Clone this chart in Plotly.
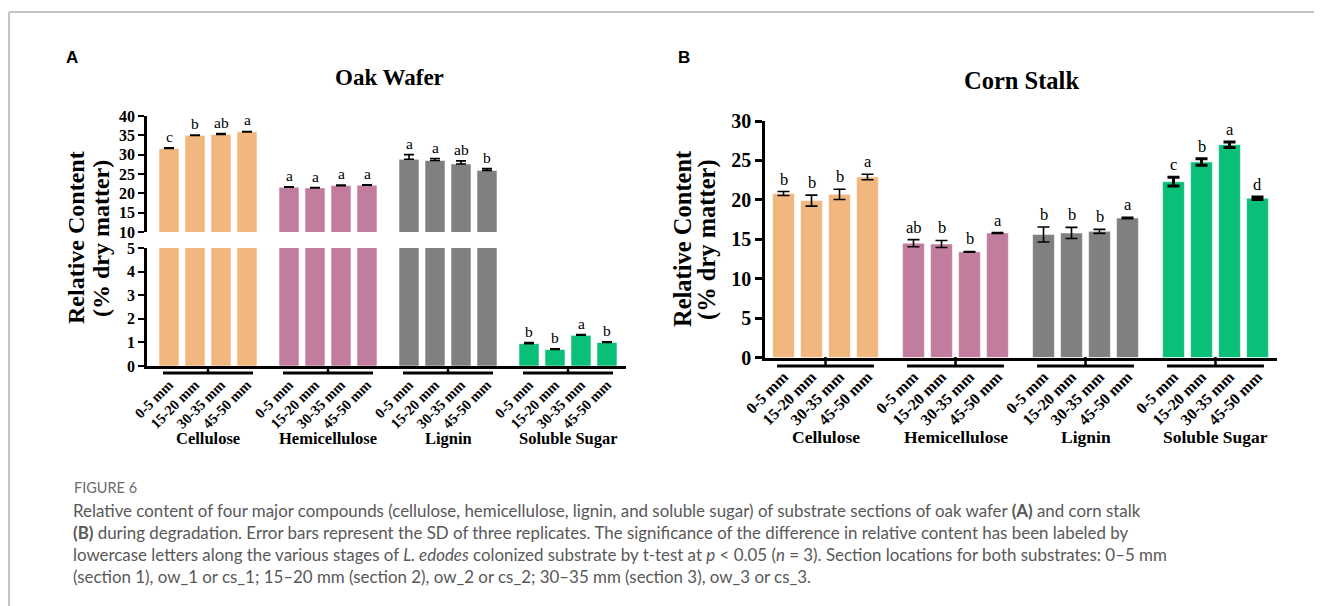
import plotly.graph_objects as go

# ---------------- data ----------------
compounds = ["Cellulose", "Hemicellulose", "Lignin", "Soluble Sugar"]
sections = ["0-5 mm", "15-20 mm", "30-35 mm", "45-50 mm"]
colors = ["#F2B77E", "#C27C9E", "#808080", "#0ABF78"]

# Panel A: oak wafer
ow_cellulose = [31.6, 35.0, 35.2, 35.9]
ow_hemicellulose = [21.6, 21.4, 22.0, 22.1]
ow_lignin = [28.8, 28.5, 27.6, 25.9]
ow_sugar = [0.95, 0.70, 1.30, 1.00]
ow_cellulose_sd = [0.15, 0.1, 0.25, 0.1]
ow_hemicellulose_sd = [0.1, 0.1, 0.15, 0.1]
ow_lignin_sd = [1.2, 0.5, 0.8, 0.5]
ow_sugar_sd = [0.04, 0.03, 0.03, 0.03]
ow_letters = [["c", "b", "ab", "a"], ["a", "a", "a", "a"],
              ["a", "a", "ab", "b"], ["b", "b", "a", "b"]]

# Panel B: corn stalk
cs_cellulose = [20.8, 19.9, 20.7, 22.9]
cs_hemicellulose = [14.5, 14.4, 13.4, 15.8]
cs_lignin = [15.6, 15.8, 16.0, 17.7]
cs_sugar = [22.3, 24.8, 27.0, 20.2]
cs_cellulose_sd = [0.25, 0.7, 0.65, 0.35]
cs_hemicellulose_sd = [0.45, 0.45, 0.05, 0.05]
cs_lignin_sd = [0.95, 0.7, 0.25, 0.1]
cs_sugar_sd = [0.55, 0.4, 0.35, 0.15]
cs_letters = [["b", "b", "b", "a"], ["ab", "b", "b", "a"],
              ["b", "b", "b", "a"], ["c", "b", "a", "d"]]

ow_vals = [ow_cellulose, ow_hemicellulose, ow_lignin, ow_sugar]
ow_sds = [ow_cellulose_sd, ow_hemicellulose_sd, ow_lignin_sd, ow_sugar_sd]
cs_vals = [cs_cellulose, cs_hemicellulose, cs_lignin, cs_sugar]
cs_sds = [cs_cellulose_sd, cs_hemicellulose_sd, cs_lignin_sd, cs_sugar_sd]

# ---------------- layout helpers ----------------
W, H = 1322, 606
OFF = 8  # page body margin offset
def px(x):
    return (x - OFF) / W
def py(y):
    return 1 - (y - OFF) / H

SERIF = "Liberation Serif, Times New Roman, serif"
SANS = "Liberation Sans, Arial, sans-serif"
CAP = "Lato, Open Sans, sans-serif"

GAP_A = 120 / 26
GAP_B = 130 / 28

def positions(gap):
    return [[g * gap + i for i in range(4)] for g in range(4)]

pos_a = positions(GAP_A)
pos_b = positions(GAP_B)

fig = go.Figure()

# ---- Panel A bars (upper and lower broken segments) ----
for g in range(4):
    for yax in ["y", "y2"]:
        fig.add_trace(go.Bar(
            x=pos_a[g], y=ow_vals[g], xaxis="x", yaxis=yax,
            width=0.77, marker=dict(color=colors[g],
                                    line=dict(color="rgba(255,255,255,0.55)", width=1)),
            error_y=dict(type="data", array=ow_sds[g], arrayminus=[0] * 4,
                         symmetric=False, color="black", thickness=1.6, width=5),
            showlegend=False, hoverinfo="skip"))

# ---- Panel B bars ----
for g in range(4):
    fig.add_trace(go.Bar(
        x=pos_b[g], y=cs_vals[g], xaxis="x2", yaxis="y3",
        width=0.78, marker=dict(color=colors[g],
                                line=dict(color="rgba(255,255,255,0.55)", width=1)),
        error_y=dict(type="data", array=cs_sds[g], color="black",
                     thickness=3 if g == 3 else 1.6, width=6),
        showlegend=False, hoverinfo="skip"))

annotations = []
shapes = []

def ann(x, y, text, font, xref="paper", yref="paper", xanchor="center",
        yanchor="middle", **kw):
    d = dict(x=x, y=y, xref=xref, yref=yref, text=text, showarrow=False,
             xanchor=xanchor, yanchor=yanchor, font=font)
    d.update(kw)
    annotations.append(d)

# significance letters
for g in range(4):
    for i in range(4):
        v = ow_vals[g][i] + ow_sds[g][i]
        ann(pos_a[g][i], v, ow_letters[g][i],
            dict(family=SERIF, size=15.5, color="black"),
            xref="x", yref="y2" if ow_vals[g][i] > 10 else "y", yanchor="bottom",
            yshift=1)
        v = cs_vals[g][i] + cs_sds[g][i]
        ann(pos_b[g][i], v, cs_letters[g][i],
            dict(family=SERIF, size=16.5, color="black"),
            xref="x2", yref="y3", yanchor="bottom", yshift=1)

# brackets under each group and group labels
def brackets(pos, xref, y_axis_px, y_br_px, y_lab_px, lab_size):
    for g in range(4):
        x0 = pos[g][0] - 0.23
        x1 = pos[g][3] + 0.23
        xc = (pos[g][0] + pos[g][3]) / 2
        shapes.append(dict(type="line", xref=xref, yref="paper", x0=x0, x1=x1,
                           y0=py(y_br_px), y1=py(y_br_px),
                           line=dict(color="black", width=3)))
        shapes.append(dict(type="line", xref=xref, yref="paper", x0=xc, x1=xc,
                           y0=py(y_axis_px), y1=py(y_br_px),
                           line=dict(color="black", width=2.5)))
        ann(xc, py(y_lab_px), "<b>%s</b>" % compounds[g],
            dict(family=SERIF, size=lab_size, color="black"), xref=xref)

brackets(pos_a, "x", 366, 373, 438, 16.5)
brackets(pos_b, "x2", 357, 366, 437, 17.5)

# titles, panel letters, y-axis titles
ann(px(72), py(57), "<b>A</b>", dict(family=SANS, size=17, color="black"))
ann(px(684), py(57), "<b>B</b>", dict(family=SANS, size=17, color="black"))
ann(px(389), py(77), "<b>Oak Wafer</b>", dict(family=SERIF, size=23, color="black"))
ann(px(1021), py(81), "<b>Corn Stalk</b>", dict(family=SERIF, size=24.5, color="black"))
for xx, yy, fs in [(76, 238, 24), (682, 239, 24.5)]:
    ann(px(xx), py(yy), "<b>Relative Content</b>",
        dict(family=SERIF, size=fs, color="black"), textangle=-90)
    ann(px(xx + 25), py(yy), "<b>(% dry matter)</b>",
        dict(family=SERIF, size=fs, color="black"), textangle=-90)

# caption
caption_lines = [
    "Relative content of four major compounds (cellulose, hemicellulose, lignin, and soluble sugar) of substrate sections of oak wafer <b>(A)</b> and corn stalk",
    "<b>(B)</b> during degradation. Error bars represent the SD of three replicates. The significance of the difference in relative content has been labeled by",
    "lowercase letters along the various stages of <i>L. edodes</i> colonized substrate by t-test at <i>p</i> < 0.05 (<i>n</i> = 3). Section locations for both substrates: 0–5 mm",
    "(section 1), ow_1 or cs_1; 15–20 mm (section 2), ow_2 or cs_2; 30–35 mm (section 3), ow_3 or cs_3.",
]
ann(px(72), py(487), "FIGURE 6", dict(family=CAP, size=14.5, color="#6b6b6b"), xanchor="left")
for k, line in enumerate(caption_lines):
    ann(px(71), py(510 + 22 * k), line, dict(family=CAP, size=16.9, color="#585858"),
        xanchor="left")

# frame border
shapes.append(dict(type="line", xref="paper", yref="paper", x0=px(9), x1=px(9),
                   y0=0, y1=py(12), line=dict(color="#b0b0b0", width=1.5)))
shapes.append(dict(type="line", xref="paper", yref="paper", x0=px(9), x1=1,
                   y0=py(12), y1=py(12), line=dict(color="#b0b0b0", width=1.5)))

axis_common = dict(showline=True, linecolor="black", linewidth=2.5, showgrid=False,
                   zeroline=False, fixedrange=True, automargin=False)

fig.update_layout(
    template="none",
    width=W, height=H, margin=dict(l=0, r=0, t=0, b=0, pad=0), autosize=False,
    paper_bgcolor="white", plot_bgcolor="rgba(0,0,0,0)",
    barmode="overlay", showlegend=False,
    xaxis=dict(domain=[px(147), px(626)], anchor="y",
               range=[-(169 - 147) / 26, (626 - 169) / 26],
               tickvals=[p for grp in pos_a for p in grp], ticktext=sections * 4,
               tickangle=-45, ticks="", ticklabelstandoff=2,
               tickfont=dict(family=SERIF, size=14.5, color="black", weight="bold"),
               **axis_common),
    yaxis=dict(domain=[py(366), py(248)], anchor="x", range=[0, 5], tickvals=[0, 1, 2, 3, 4, 5],
               ticks="outside", ticklen=6, tickwidth=2, tickcolor="black",
               tickfont=dict(family=SERIF, size=16, color="black", weight="bold"),
               **axis_common),
    yaxis2=dict(domain=[py(232), py(116)], anchor="x", range=[10, 40],
                tickvals=[10, 15, 20, 25, 30, 35, 40],
                ticks="outside", ticklen=6, tickwidth=2, tickcolor="black",
                tickfont=dict(family=SERIF, size=16, color="black", weight="bold"),
                **axis_common),
    xaxis2=dict(domain=[px(765), px(1277)], anchor="y3",
                range=[-(783.5 - 765) / 28, (1277 - 783.5) / 28],
                tickvals=[p for grp in pos_b for p in grp], ticktext=sections * 4,
                tickangle=-45, ticks="", ticklabelstandoff=1,
                tickfont=dict(family=SERIF, size=16, color="black", weight="bold"),
                **axis_common),
    yaxis3=dict(domain=[py(357.5), py(121)], anchor="x2", range=[0, 30],
                tickvals=[0, 5, 10, 15, 20, 25, 30],
                ticks="outside", ticklen=7, tickwidth=2.5, tickcolor="black",
                tickfont=dict(family=SERIF, size=20, color="black", weight="bold"),
                **axis_common),
    annotations=annotations, shapes=shapes,
)

fig.write_html("out.html")
